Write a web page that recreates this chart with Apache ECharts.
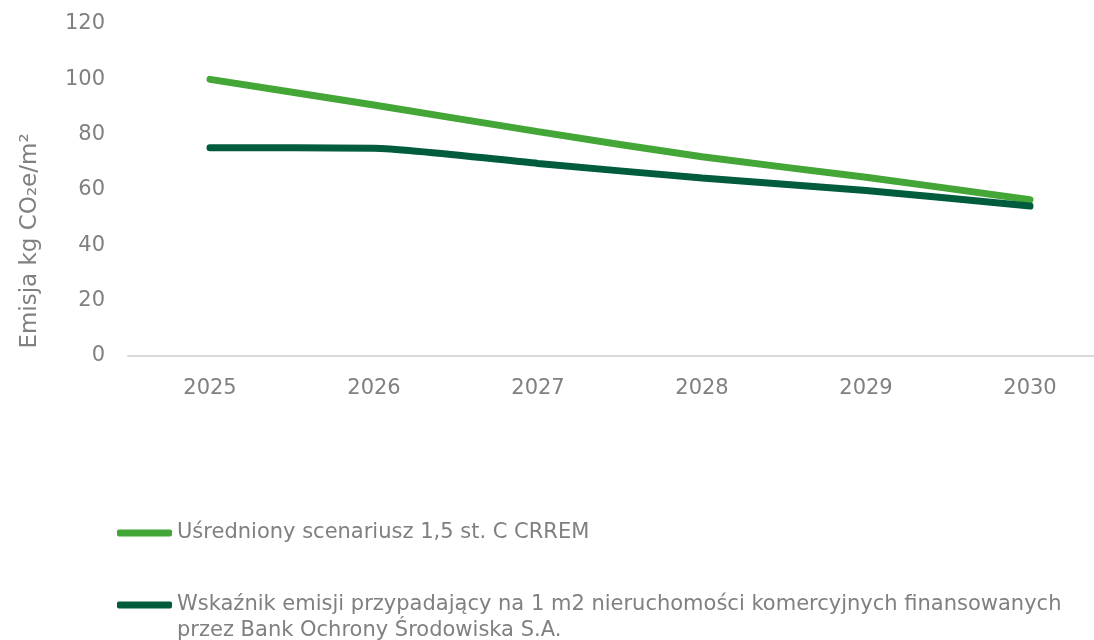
<!DOCTYPE html>
<html>
<head>
<meta charset="utf-8">
<script src="https://cdn.jsdelivr.net/npm/echarts@6/dist/echarts.min.js"></script>
<style>
  html, body { margin: 0; padding: 0; background: #fff; }
  #chart { width: 1094px; height: 640px; }
</style>
</head>
<body>
<div id="chart"></div>
<script>
  // dane
  const years = ["2025", "2026", "2027", "2028", "2029", "2030"];
  const crremName = "Uśredniony scenariusz 1,5 st. C CRREM";
  const crremValues = [100, 90.7, 81.1, 72.0, 64.6, 56.5];
  const bosName = "Wskaźnik emisji przypadający na 1 m2 nieruchomości komercyjnych finansowanych przez Bank Ochrony Środowiska S.A.";
  const bosValues = [75.3, 75.1, 69.6, 64.3, 59.8, 54.2];
  const yTicks = [0, 20, 40, 60, 80, 100, 120];

  const textColor = "#808080";
  const font = "DejaVu Sans";

  var myChart = echarts.init(document.getElementById("chart"));
  let option = {
    animation: false,
    textStyle: { fontFamily: font, color: textColor },
    grid: {
      left: 128,
      right: -18,
      top: 24,
      bottom: 284,
      outerBoundsMode: "none"
    },
    graphic: [
      {
        type: "text",
        x: 30,
        y: 241,
        rotation: Math.PI / 2,
        style: {
          text: "Emisja kg CO₂e/m²",
          fontFamily: font,
          fontSize: 23,
          fill: textColor,
          align: "center",
          verticalAlign: "middle"
        }
      }
    ],
    legend: [
      {
        left: 117,
        top: 520,
        padding: 0,
        itemWidth: 55,
        itemHeight: 7,
        icon: "roundRect",
        textStyle: { fontSize: 21, color: textColor, fontFamily: font, lineHeight: 26 },
        data: [crremName]
      },
      {
        left: 117,
        top: 566,
        padding: 0,
        itemWidth: 55,
        itemHeight: 7,
        icon: "roundRect",
        textStyle: { fontSize: 21, color: textColor, fontFamily: font, lineHeight: 26 },
        // pusta linia na górze, żeby ikona wypadła na wysokości pierwszego wiersza
        formatter: function (name) {
          return " \nWskaźnik emisji przypadający na 1 m2 nieruchomości komercyjnych finansowanych\nprzez Bank Ochrony Środowiska S.A.";
        },
        data: [bosName]
      }
    ],
    xAxis: {
      type: "category",
      data: years,
      boundaryGap: true,
      axisLine: { lineStyle: { color: "#d9d9d9", width: 2 } },
      axisTick: { show: false },
      axisLabel: { fontSize: 21, color: textColor, margin: 22 }
    },
    yAxis: {
      type: "value",
      min: yTicks[0],
      max: yTicks[yTicks.length - 1],
      interval: 20,
      axisLine: { show: false },
      axisTick: { show: false },
      splitLine: { show: false },
      axisLabel: { fontSize: 21, color: textColor, margin: 23 }
    },
    series: [
      {
        name: crremName,
        type: "line",
        data: crremValues,
        smooth: 0.2,
        symbol: "none",
        lineStyle: { color: "#43a636", width: 7, cap: "round" },
        itemStyle: { color: "#43a636" }
      },
      {
        name: bosName,
        type: "line",
        data: bosValues,
        smooth: 0.2,
        symbol: "none",
        lineStyle: { color: "#005c3c", width: 7, cap: "round" },
        itemStyle: { color: "#005c3c" }
      }
    ]
  };
  myChart.setOption(option);
</script>
</body>
</html>
